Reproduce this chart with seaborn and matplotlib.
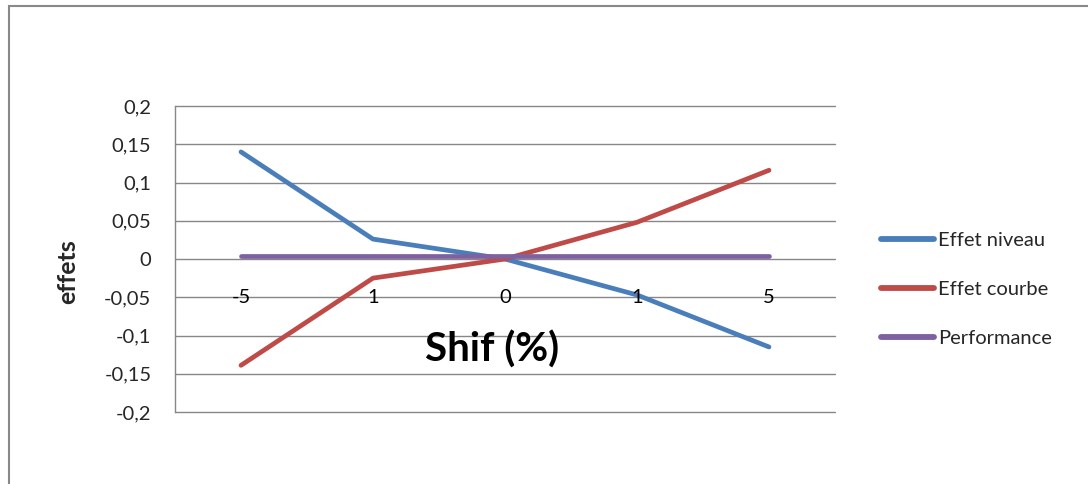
import matplotlib
matplotlib.use("Agg")
import matplotlib.pyplot as plt
from matplotlib.patches import Rectangle
import seaborn as sns
import pandas as pd

# Shift scenarios (category labels) and the effect of each component
categories = ["-5", "1", "0", "1", "5"]
effet_niveau = [0.14, 0.026, 0.0, -0.047, -0.115]
effet_courbe = [-0.139, -0.025, 0.0, 0.048, 0.116]
performance = [0.004, 0.004, 0.004, 0.004, 0.004]
series_names = ["Effet niveau", "Effet courbe", "Performance"]
y_ticks = [0.2, 0.15, 0.1, 0.05, 0, -0.05, -0.1, -0.15, -0.2]

colors = ["#4A7EBB", "#BE4B48", "#7F60A0"]

rows = []
for name, vals in zip(series_names, [effet_niveau, effet_courbe, performance]):
    for i, v in enumerate(vals):
        rows.append({"pos": i, "value": v, "serie": name})
df = pd.DataFrame(rows)

sns.set_style("white")
plt.rcParams["font.family"] = ["Lato", "DejaVu Sans"]

fig = plt.figure(figsize=(10.88, 4.84), dpi=100)
ax = fig.add_axes([175 / 1088, 1 - 412 / 484, 660 / 1088, 306 / 484])

sns.lineplot(data=df, x="pos", y="value", hue="serie", palette=colors,
             hue_order=series_names, sort=False, linewidth=3.4, ax=ax,
             solid_capstyle="round", legend=True)

ax.set_xlim(-0.5, len(categories) - 0.5)
ax.set_ylim(-0.2, 0.2)
ax.set_yticks(y_ticks)
ax.set_yticklabels([f"{t:g}".replace(".", ",") for t in y_ticks], fontsize=14.5)
ax.tick_params(axis="y", length=0, pad=17)
ax.set_xticks([])
ax.grid(axis="y", color="#878787", linewidth=1.0)
for gl in ax.get_ygridlines():
    gl.set_clip_on(False)
ax.set_axisbelow(True)
for s in ["top", "right", "bottom"]:
    ax.spines[s].set_visible(False)
ax.spines["left"].set_color("#878787")
ax.spines["left"].set_linewidth(1.0)

# Category labels sit below the zero line
for i, lab in enumerate(categories):
    ax.text(i, -0.05, lab, ha="center", va="center", fontsize=14.5, color="black")

ax.set_xlabel("")
ax.set_ylabel("effets", fontsize=18, fontweight="bold")
ax.yaxis.set_label_coords(-0.145, 0.46)
ax.text(1.9, -0.119, "Shif (%)", ha="center", va="center", fontsize=29,
        fontweight="bold", color="black")

leg = ax.legend(loc="center left", bbox_to_anchor=(1.058, 0.40), frameon=False,
                fontsize=14.5, handlelength=2.6, handletextpad=0.2,
                labelspacing=1.6, borderaxespad=0)
for line in leg.get_lines():
    line.set_linewidth(4.2)
    line.set_solid_capstyle("round")

# Chart frame
fig.patches.append(Rectangle((9 / 1088, -0.5), 1.2, 1.5 - 6 / 484,
                             transform=fig.transFigure, fill=False,
                             edgecolor="#898989", linewidth=1.5))

fig.savefig("out.png", dpi=100, facecolor="white")
